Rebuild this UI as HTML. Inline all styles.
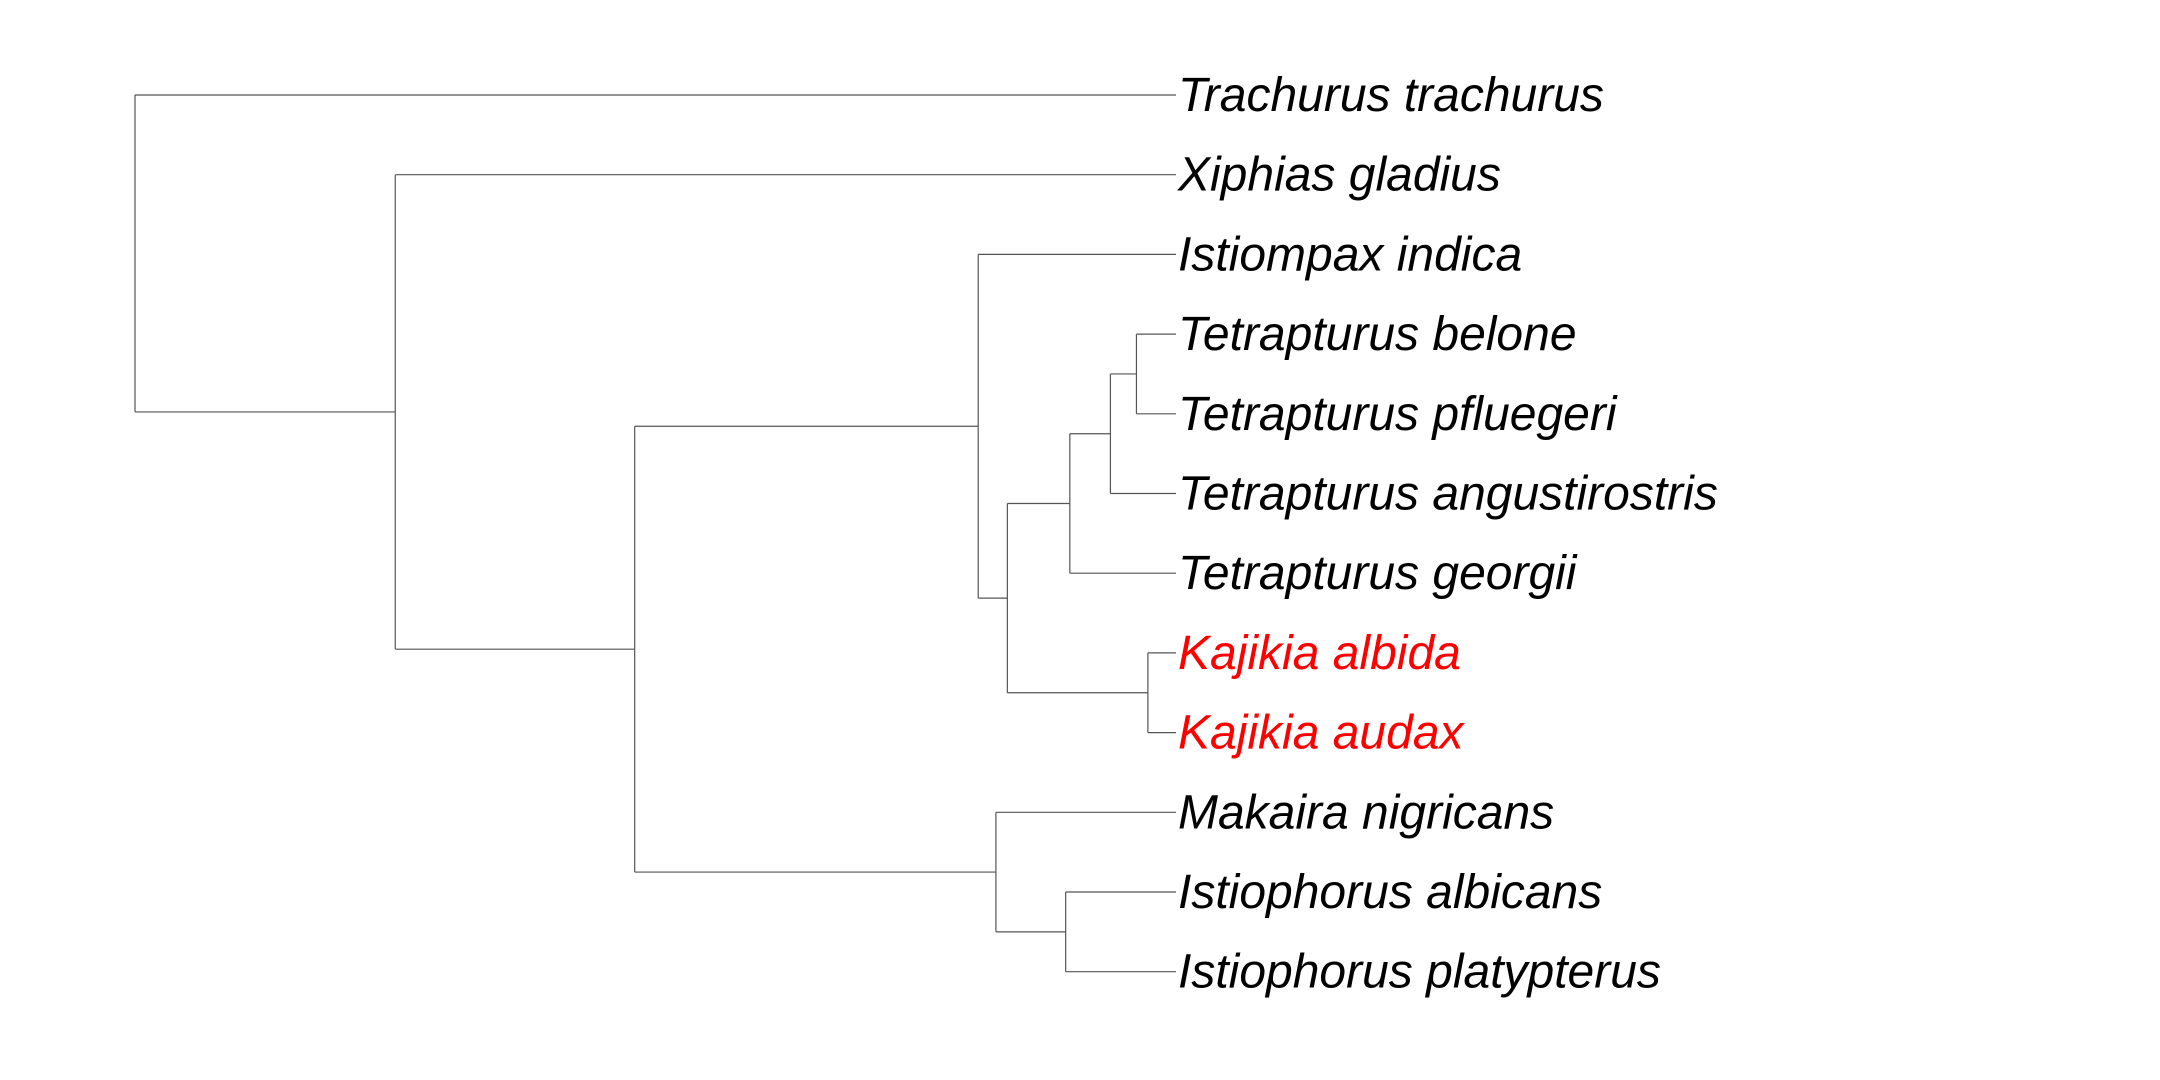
<!DOCTYPE html>
<html><head><meta charset="utf-8"><style>
html,body{margin:0;padding:0;background:#fff;}
svg{display:block;}
text{font-family:"Liberation Sans",sans-serif;font-style:italic;font-size:48px;}
</style></head><body>
<svg id="chart" width="2160" height="1080" viewBox="0 0 2160 1080"></svg>
<script>
// Tips (top to bottom)
const tipNames = ["Trachurus trachurus","Xiphias gladius","Istiompax indica","Tetrapturus belone","Tetrapturus pfluegeri","Tetrapturus angustirostris","Tetrapturus georgii","Kajikia albida","Kajikia audax","Makaira nigricans","Istiophorus albicans","Istiophorus platypterus"];
const highlighted = ["Kajikia albida","Kajikia audax"];
// Internal nodes: id, depth (relative distance from root), children (tip index or node id)
const nodeIds = ["root","n1","n2","n3","n4","n5","n6","n7","n8","n9","n10"];
const nodeDepths = [0, 0.25, 0.48, 0.81, 0.838, 0.898, 0.937, 0.962, 0.973, 0.827, 0.894];
const nodeChildren = [["t0","n1"],["t1","n2"],["n3","n9"],["t2","n4"],["n5","n8"],["n6","t6"],["n7","t5"],["t3","t4"],["t7","t8"],["t9","n10"],["t10","t11"]];
const tipDepth = 1;

const svg = document.getElementById('chart');
const NS = "http://www.w3.org/2000/svg";
const xScale = d => 135 + d * (1176 - 135);
const yTip = i => 95 + i * 79.7;

function depthOf(id){ return id[0]==='t' ? tipDepth : nodeDepths[nodeIds.indexOf(id)]; }
function yOf(id){
  if(id[0]==='t') return yTip(+id.slice(1));
  const ch = nodeChildren[nodeIds.indexOf(id)];
  return (yOf(ch[0]) + yOf(ch[ch.length-1]))/2;
}
function line(x1,y1,x2,y2,name){
  const l=document.createElementNS(NS,'line');
  l.setAttribute('x1',x1);l.setAttribute('y1',y1);l.setAttribute('x2',x2);l.setAttribute('y2',y2);
  l.setAttribute('stroke','#555');l.setAttribute('stroke-width','1.2');
  
  
  svg.appendChild(l);
}
nodeIds.forEach((id,k)=>{
  const x = xScale(nodeDepths[k]);
  const ys = nodeChildren[k].map(yOf);
  line(x, Math.min(...ys), x, Math.max(...ys), 'branch-vertical-'+id);
  nodeChildren[k].forEach(c=>{
    line(x, yOf(c), xScale(depthOf(c)), yOf(c), 'branch-'+c);
  });
});
tipNames.forEach((n,i)=>{
  const t=document.createElementNS(NS,'text');
  t.setAttribute('x', xScale(tipDepth)+2);
  t.setAttribute('y', yTip(i)+16);
  t.setAttribute('fill', highlighted.includes(n) ? '#ff0000' : '#000');
  t.textContent = n;
  
  
  svg.appendChild(t);
});
</script>
</body></html>
